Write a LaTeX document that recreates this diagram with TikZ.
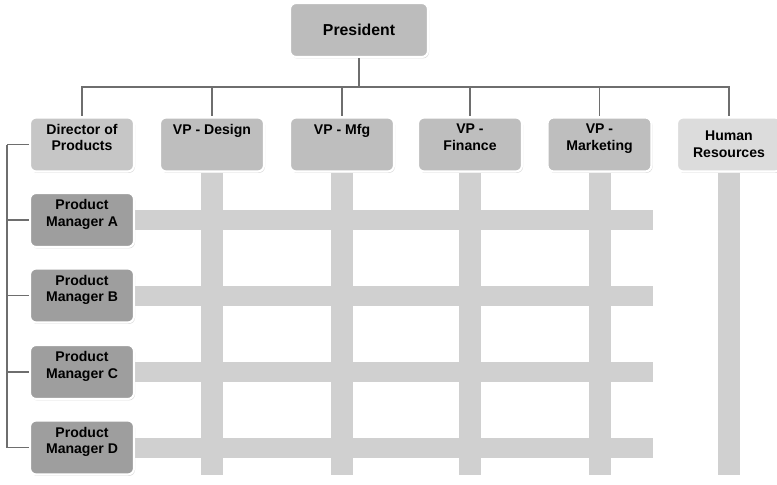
\documentclass[tikz,border=0pt]{standalone}
\usepackage{fontspec}
\setmainfont{Liberation Sans}
\usepackage{xcolor}
\tikzset{>=latex}
\usetikzlibrary{calc,shadows,backgrounds}

\definecolor{presgray}{RGB}{188,188,188}
\definecolor{dirgray}{RGB}{198,198,198}
\definecolor{vpgray}{RGB}{190,190,190}
\definecolor{pmgray}{RGB}{158,158,158}
\definecolor{hrgray}{RGB}{220,220,220}
\definecolor{bargray}{RGB}{208,208,208}
\definecolor{linkgray}{RGB}{110,110,110}

\tikzset{
  post/.style={rectangle, draw=white, line width=1.2pt, rounded corners=3.5pt,
    minimum width=2.08cm, minimum height=1.08cm, align=center,
    font=\bfseries\fontsize{8}{9.5}\selectfont,
    drop shadow={shadow xshift=0.6pt, shadow yshift=-0.8pt, opacity=0.3}},
  toptext/.style={anchor=north, inner sep=4pt, align=center,
    font=\bfseries\fontsize{8}{9.5}\selectfont},
  link/.style={draw=linkgray, line width=0.8pt},
  bar/.style={fill=bargray}
}

\begin{document}
\begin{tikzpicture}[x=0.02cm, y=-0.02cm]
        \useasboundingbox (0,0) rectangle (777,484);
        % top
        \node[post, fill=presgray, minimum width=2.76cm, font=\bfseries\fontsize{9}{10}\selectfont] (pres) at (359,30) {President};
        % first row
        \node[post, fill=dirgray, label={[toptext]north:{Director of\\Products}}] (dir) at (82,144.5) {};
        \node[post, fill=vpgray, label={[toptext]north:{VP - Design}}] (des) at (212,144.5) {};
        \node[post, fill=vpgray, label={[toptext]north:{VP - Mfg}}] (mfg) at (342,144.5) {};
        \node[post, fill=vpgray, label={[toptext]north:{VP -\\Finance}}] (fin) at (470,144.5) {};
        \node[post, fill=vpgray, label={[toptext]north:{VP -\\Marketing}}] (mkt) at (599.5,144.5) {};
        \node[post, fill=hrgray] (hr) at (729,144.5) {Human\\Resources};
        % product managers
        \node[post, fill=pmgray, label={[toptext]north:{Product\\Manager A}}] (pmA) at (82,220) {};
        \node[post, fill=pmgray, label={[toptext]north:{Product\\Manager B}}] (pmB) at (82,295.5) {};
        \node[post, fill=pmgray, label={[toptext]north:{Product\\Manager C}}] (pmC) at (82,372) {};
        \node[post, fill=pmgray, label={[toptext]north:{Product\\Manager D}}] (pmD) at (82,447.5) {};

        \coordinate (bus) at (359,87);
        \coordinate (spine) at (7,144.5);
        \coordinate (floor) at (0,475);
        \foreach \n in {dir,des,mfg,fin,mkt,hr}
          \draw[link] (pres.south) -- (bus) -| (\n.north);
        \draw[link] (dir.west) -- (spine);
        \foreach \n in {pmA,pmB,pmC,pmD}
          \draw[link] (spine) |- (\n.west);

        % matrix bars
        \begin{scope}[on background layer]
          \foreach \n in {des,mfg,fin,mkt,hr}
            \fill[bar] ($(\n.south)+(-11,0)$) rectangle ($(\n.south |- floor)+(11,0)$);
          \foreach \n in {pmA,pmB,pmC,pmD}
            \fill[bar] ($(\n.east)+(0,-10)$) rectangle ($(\n.east -| mkt.east)+(0,10)$);
        \end{scope}
      \end{tikzpicture}
\end{document}
